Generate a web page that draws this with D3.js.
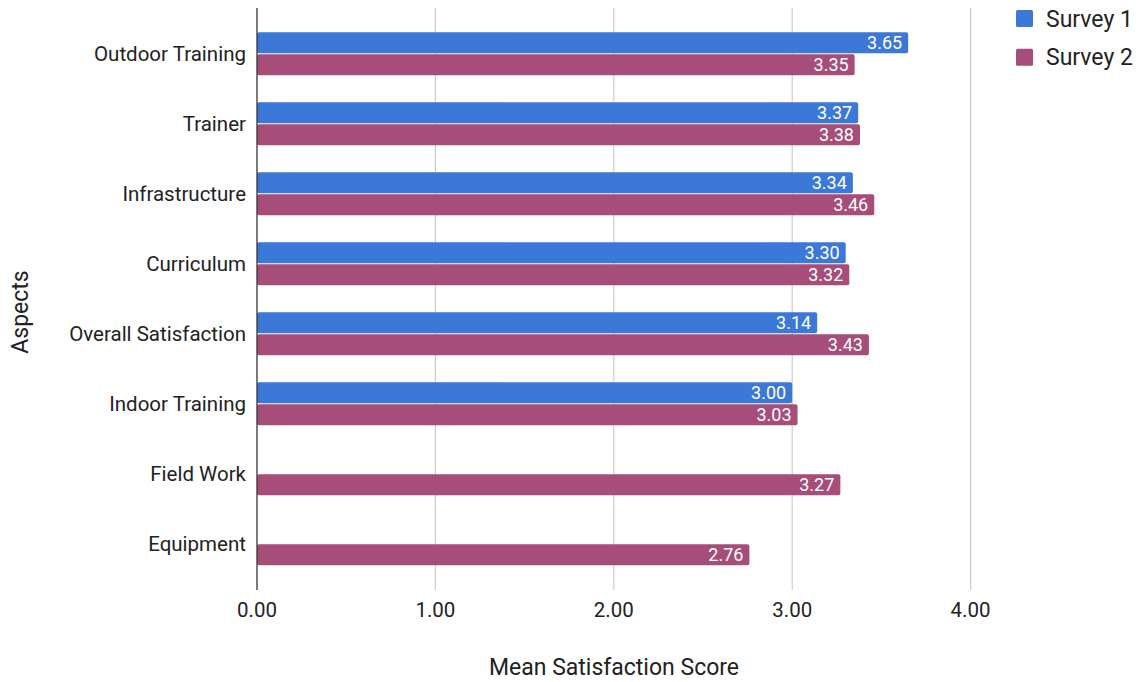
<!DOCTYPE html>
<html>
<head>
<meta charset="utf-8">
<script src="https://cdn.jsdelivr.net/npm/d3@7"></script>
<style>
  html, body { margin: 0; padding: 0; background: #fff; }
  svg { display: block; font-family: Roboto, "Noto Sans", sans-serif; }
</style>
</head>
<body>
<svg id="chart" width="1142" height="682"></svg>
<script>
// Mean satisfaction per aspect for the two surveys
const categories = ["Outdoor Training", "Trainer", "Infrastructure", "Curriculum",
  "Overall Satisfaction", "Indoor Training", "Field Work", "Equipment"];
const survey1 = [3.65, 3.37, 3.34, 3.30, 3.14, 3.00, null, null];
const survey2 = [3.35, 3.38, 3.46, 3.32, 3.43, 3.03, 3.27, 2.76];
const seriesNames = ["Survey 1", "Survey 2"];
const xTicks = [0, 1, 2, 3, 4];

const colors = ["#3c78d8", "#a64d79"];
const svg = d3.select("#chart");

const x = d3.scaleLinear().domain([0, 4]).range([257, 970.6]);
const y = d3.scaleBand().domain(categories).range([18.8, 578.8])
  .paddingInner(27 / 70).paddingOuter(27 / 140);
const ySub = d3.scaleBand().domain([0, 1]).range([0, y.bandwidth()]).paddingInner(0.045);

const plotTop = 8, plotBottom = 590;

// vertical gridlines
svg.append("g").selectAll("line").data(xTicks.filter(d => d > 0)).join("line")
  .attr("x1", d => x(d)).attr("x2", d => x(d))
  .attr("y1", plotTop).attr("y2", plotBottom)
  .attr("stroke", "#cccccc").attr("stroke-width", 1.2);

// x tick labels
svg.append("g").selectAll("text").data(xTicks).join("text")
  .attr("x", d => x(d)).attr("y", 610)
  .attr("dy", "0.36em")
  .attr("text-anchor", "middle")
  .attr("font-size", 20.5).attr("fill", "#222")
  .text(d => d3.format(".2f")(d));

// bars
const rows = categories.map((c, i) => ({ c, vals: [survey1[i], survey2[i]] }));
const groups = svg.append("g").selectAll("g").data(rows).join("g")
  .attr("transform", d => `translate(0,${y(d.c)})`);

groups.each(function(d) {
  const g = d3.select(this);
  d.vals.forEach((v, s) => {
    if (v == null) return;
    g.append("rect")
      .attr("x", x(0)).attr("y", ySub(s))
      .attr("width", x(v) - x(0)).attr("height", ySub.bandwidth())
      .attr("rx", 2).attr("ry", 2)
      .attr("fill", colors[s]);
    g.append("text")
      .attr("x", x(v) - 6).attr("y", ySub(s) + ySub.bandwidth() / 2)
      .attr("dy", "0.36em").attr("text-anchor", "end")
      .attr("font-size", 18).attr("fill", "#fff")
      .text(d3.format(".2f")(v));
  });
});

// category labels
svg.append("g").selectAll("text").data(categories).join("text")
  .attr("x", 246).attr("y", d => y(d) + y.bandwidth() / 2)
  .attr("dy", "0.36em").attr("text-anchor", "end")
  .attr("font-size", 20.5).attr("fill", "#222")
  .text(d => d);

// baseline axis
svg.append("line")
  .attr("x1", x(0)).attr("x2", x(0)).attr("y1", plotTop).attr("y2", plotBottom)
  .attr("stroke", "#333").attr("stroke-width", 1.3);

// axis titles
svg.append("text")
  .attr("x", 614).attr("y", 667).attr("dy", "0.36em").attr("text-anchor", "middle")
  .attr("font-size", 23).attr("fill", "#222")
  .text("Mean Satisfaction Score");
svg.append("text")
  .attr("transform", "translate(20,312) rotate(-90)")
  .attr("dy", "0.36em")
  .attr("text-anchor", "middle")
  .attr("font-size", 23).attr("fill", "#222")
  .text("Aspects");

// legend
const legend = svg.append("g").selectAll("g").data(seriesNames).join("g")
  .attr("transform", (d, i) => `translate(1016,${10 + i * 38.7})`);
legend.append("rect").attr("width", 17).attr("height", 17).attr("rx", 1.5)
  .attr("fill", (d, i) => colors[i]);
legend.append("text").attr("x", 30).attr("y", 8.5).attr("dy", "0.36em")
  .attr("font-size", 23).attr("fill", "#222").text(d => d);
</script>
</body>
</html>
